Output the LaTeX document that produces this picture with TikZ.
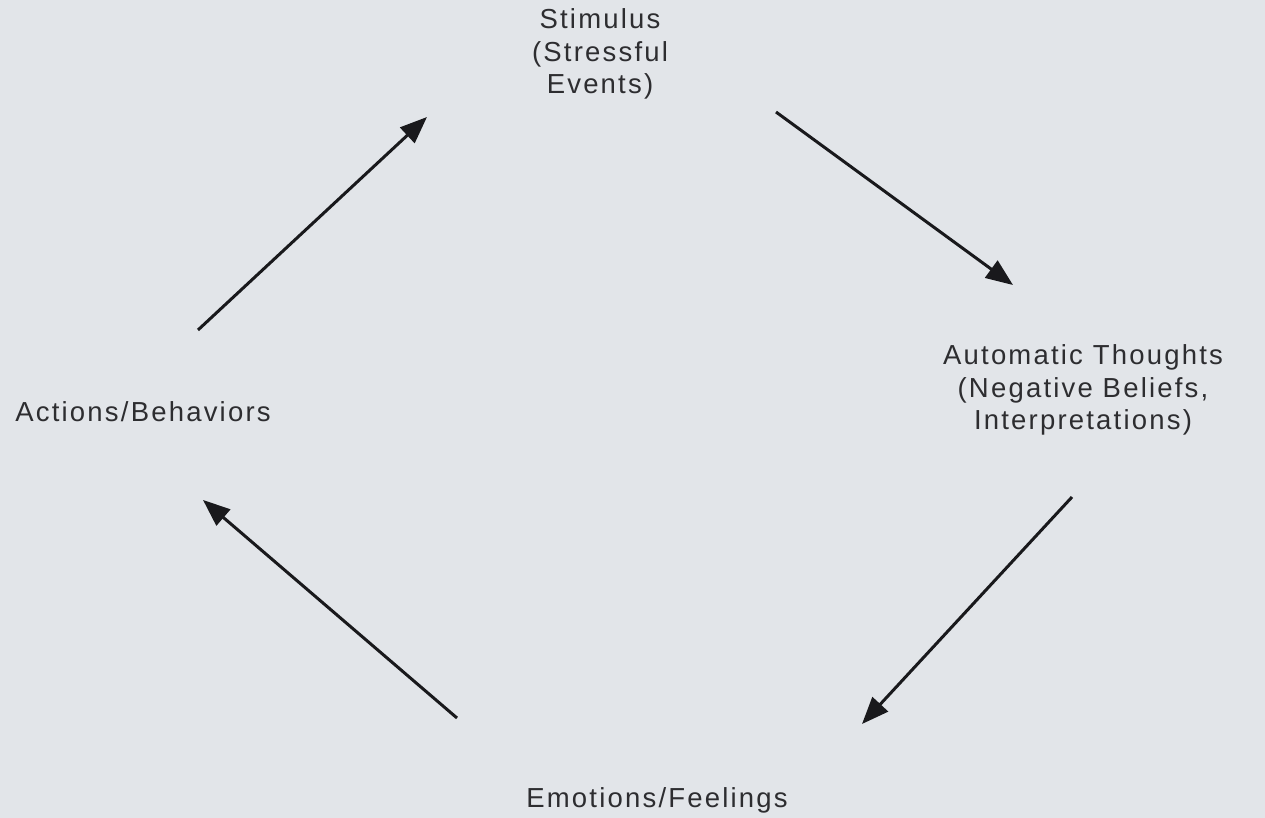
\documentclass[tikz,border=0pt]{standalone}
\usepackage{fontspec}
\setmainfont{Liberation Sans}[LetterSpace=8]
\usetikzlibrary{arrows.meta}
\definecolor{bg}{RGB}{226,229,233}
\definecolor{ink}{RGB}{45,45,48}
\definecolor{arr}{RGB}{25,25,28}
\tikzset{
  lbl/.style={text=ink, align=center, font=\fontsize{27.5}{32.5}\selectfont, inner sep=0pt},
  cyc/.style={draw=arr, line width=3pt, -{Triangle[length=27pt,width=21pt]}}
}
\begin{document}
\begin{tikzpicture}[x=1pt,y=-1pt]
\fill[bg] (0,0) rectangle (1265,818);
\useasboundingbox (0,0) rectangle (1265,818);
\node[lbl] (stim) at (600,54) {Stimulus\\(Stressful\\Events)};
\node[lbl] (auto) at (1083,390) {Automatic Thoughts\\(Negative Beliefs,\\Interpretations)};
\node[lbl] (act) at (143,412) {Actions/Behaviors};
\node[lbl] (emo) at (657,800) {Emotions/Feelings};
\coordinate (a1) at (198,330); \coordinate (a2) at (427,117);
\coordinate (b1) at (776,112); \coordinate (b2) at (1013,285);
\coordinate (c1) at (1072,497); \coordinate (c2) at (862,724);
\coordinate (d1) at (457,718); \coordinate (d2) at (203,500);
\draw[cyc] (a1) -- (a2);
\draw[cyc] (b1) -- (b2);
\draw[cyc] (c1) -- (c2);
\draw[cyc] (d1) -- (d2);
\end{tikzpicture}
\end{document}
